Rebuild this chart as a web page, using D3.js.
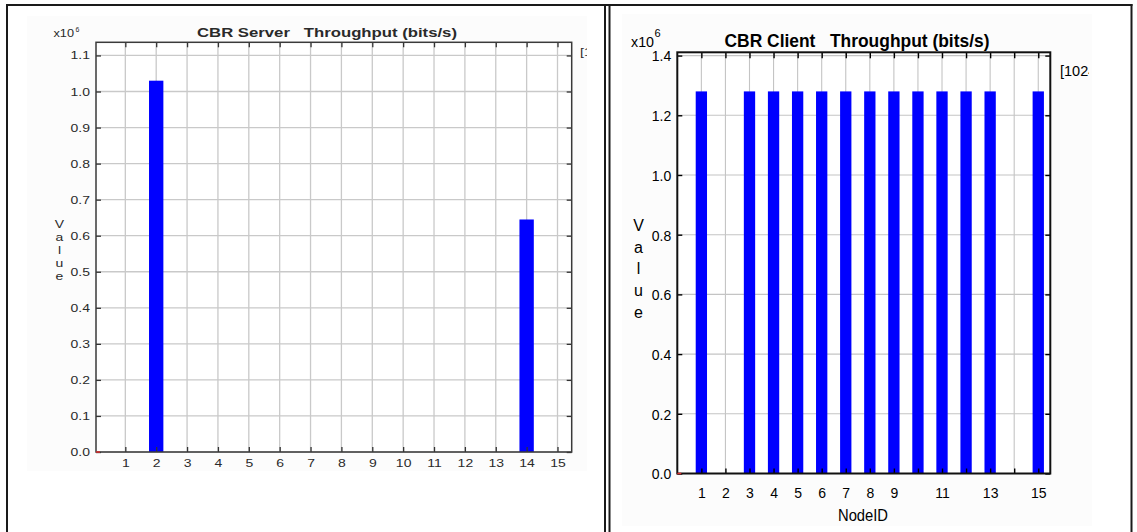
<!DOCTYPE html>
<html><head><meta charset="utf-8">
<script src="https://cdn.jsdelivr.net/npm/d3@7"></script>
<style>
body{margin:0;background:#fff}
svg{display:block;font-family:"Liberation Sans",Arial,Helvetica,sans-serif}
text{white-space:pre}
</style></head>
<body><svg id="c" width="1137" height="532"></svg>
<script>
// ---------- data (values in units of 10^6 bits/s) ----------
const nodeIds = [1,2,3,4,5,6,7,8,9,10,11,12,13,14,15];
const serverValues = [0,1.03,0,0,0,0,0,0,0,0,0,0,0,0.645,0];
const clientValues = [1.28,0,1.28,1.28,1.28,1.28,1.28,1.28,1.28,1.28,1.28,1.28,1.28,0,1.28];
const serverYTicks = [0,0.1,0.2,0.3,0.4,0.5,0.6,0.7,0.8,0.9,1.0,1.1];
const clientYTicks = [0,0.2,0.4,0.6,0.8,1.0,1.2,1.4];
const serverXTickLabels = [1,2,3,4,5,6,7,8,9,10,11,12,13,14,15];
const clientXTickLabels = [1,2,3,4,5,6,7,8,9,11,13,15];
const yAxisLetters = ["V","a","l","u","e"];
const serverTitle = "CBR Server   Throughput (bits/s)";
const clientTitle = "CBR Client   Throughput (bits/s)";
const xAxisTitle = "NodeID";

const svg = d3.select("#c");
const defs = svg.append("defs");
const fmt = d3.format(".1f");

function drawChart(cfg){
  const g = svg.append("g");
  const x = d3.scaleLinear().domain(cfg.xDomain).range(cfg.xRange);
  const y = d3.scaleLinear().domain(cfg.yDomain).range(cfg.yRange);
  const [x0,x1] = cfg.xRange, [yb,yt] = cfg.yRange;
  const sx = cfg.sx;

  g.append("rect").attr("x",cfg.bg[0]).attr("y",cfg.bg[1]).attr("width",cfg.bg[2]).attr("height",cfg.bg[3]).attr("fill","#fcfcfc");
  g.append("rect").attr("x",x0).attr("y",yt).attr("width",x1-x0).attr("height",yb-yt).attr("fill","#fff");

  // grid
  g.append("g").selectAll("line").data(nodeIds).join("line")
    .attr("x1",d=>x(d)).attr("x2",d=>x(d)).attr("y1",yt).attr("y2",yb)
    .attr("stroke",cfg.gridColor).attr("stroke-width",cfg.gridW);
  g.append("g").selectAll("line").data(cfg.yTicks).join("line")
    .attr("y1",d=>y(d)).attr("y2",d=>y(d)).attr("x1",x0).attr("x2",x1)
    .attr("stroke",cfg.gridColor).attr("stroke-width",cfg.gridW);

  // bars
  const bw = cfg.barFrac*(x(2)-x(1));
  const data = nodeIds.map((n,i)=>({n, v:cfg.values[i]})).filter(d=>d.v>0);
  g.append("g").selectAll("rect").data(data).join("rect")
    .attr("x",d=>x(d.n)-bw/2).attr("width",bw)
    .attr("y",d=>y(d.v)).attr("height",d=>y(0)-y(d.v))
    .attr("fill","#0000ff");

  // axes
  const left = g.append("g").attr("transform",`translate(${x0},0)`)
    .call(d3.axisLeft(y).tickValues(cfg.yTicks).tickFormat(fmt).tickSizeInner(-5).tickSizeOuter(0).tickPadding(cfg.yPad));
  const right = g.append("g").attr("transform",`translate(${x1},0)`)
    .call(d3.axisRight(y).tickValues(cfg.yTicks).tickFormat("").tickSizeInner(-5).tickSizeOuter(0));
  const top = g.append("g").attr("transform",`translate(0,${yt})`)
    .call(d3.axisTop(x).tickValues(nodeIds).tickFormat("").tickSizeInner(-cfg.topTick).tickSizeOuter(0));
  const bottom = g.append("g").attr("transform",`translate(0,${yb})`)
    .call(d3.axisBottom(x).tickValues(nodeIds)
      .tickFormat(d=>cfg.xLabels.includes(d)?String(d):"")
      .tickSizeInner(-5).tickSizeOuter(0).tickPadding(cfg.xPad));
  [left,right,top,bottom].forEach(a=>{
    a.select(".domain").remove();
    a.selectAll("line").attr("stroke",cfg.tickColor).attr("stroke-width",cfg.tickW);
    a.attr("font-family",null).attr("font-size",cfg.fs);
    a.selectAll("text").attr("fill",cfg.textColor);
  });
  left.selectAll("text").attr("x",-cfg.yPad/sx).attr("transform",`scale(${sx},1)`).attr("dy",cfg.yDy);
  bottom.selectAll("text").attr("transform",`scale(${sx},1)`);

  // frame
  g.append("rect").attr("x",x0).attr("y",yt).attr("width",x1-x0).attr("height",yb-yt)
    .attr("fill","none").attr("stroke",cfg.frameColor).attr("stroke-width",cfg.frameW);
  g.append("line").attr("x1",x0).attr("x2",x0+4).attr("y1",yb).attr("y2",yb).attr("stroke","#e03030").attr("stroke-width",1.5);

  // title
  g.append("text").attr("x",cfg.title.x).attr("y",cfg.title.y)
    .attr("font-size",cfg.title.fs).attr("font-weight","bold").attr("fill",cfg.textColor)
    .attr("textLength",cfg.title.len).attr("lengthAdjust","spacingAndGlyphs").text(cfg.title.text);

  // x10^6
  const e = cfg.exp;
  g.append("text").attr("x",e.x).attr("y",e.y).attr("font-size",e.fs).attr("fill",cfg.textColor)
    .attr("textLength",e.len).attr("lengthAdjust","spacingAndGlyphs").text("x10");
  g.append("text").attr("x",e.sx).attr("y",e.sy).attr("font-size",e.sfs).attr("fill",cfg.textColor).text("6");

  // vertical "Value"
  const v = cfg.vlab;
  g.append("g").selectAll("text").data(yAxisLetters).join("text")
    .attr("transform",(d,i)=>`translate(${v.x},${v.y0+i*v.dy}) scale(${sx},1)`)
    .attr("text-anchor","middle").attr("dy","0.35em")
    .attr("font-size",v.fs).attr("fill",cfg.textColor).text(d=>d);

  // clipped legend stub
  const c = cfg.stub;
  defs.append("clipPath").attr("id",c.id).append("rect")
    .attr("x",c.x-3).attr("y",c.y-20).attr("width",c.clip-(c.x-3)).attr("height",30);
  g.append("g").attr("clip-path",`url(#${c.id})`).append("text")
    .attr("transform",`translate(${c.x},${c.y}) scale(${sx},1)`)
    .attr("font-size",c.fs).attr("fill",cfg.textColor).text(c.text);

  if(cfg.xTitle){
    const t = cfg.xTitle;
    g.append("text").attr("x",t.x).attr("y",t.y).attr("font-size",t.fs).attr("fill",cfg.textColor)
      .attr("textLength",t.len).attr("lengthAdjust","spacingAndGlyphs").text(t.text);
  }
}

drawChart({
  values: serverValues, yTicks: serverYTicks, xLabels: serverXTickLabels,
  xDomain:[0.05,15.46], xRange:[96,571.7],
  yDomain:[0,1.1365], yRange:[452,42.3],
  bg:[27,16,560,455], sx:1.4, fs:10, yPad:6, yDy:"0.35em", xPad:8,
  gridColor:"#c9c9c9", gridW:1.3, tickColor:"#333", tickW:1.3, topTick:5,
  frameColor:"#3a3a3a", frameW:1.5, textColor:"#2a2a2a", barFrac:0.465,
  title:{x:197,y:37,fs:12,len:260,text:serverTitle},
  exp:{x:53.5,y:36.5,fs:10,len:20.5,sx:75.5,sy:32,sfs:7},
  vlab:{x:59.5,y0:224,dy:13,fs:10},
  stub:{id:"clipL",x:580,y:56,fs:10,text:"[1",clip:587}
});

drawChart({
  values: clientValues, yTicks: clientYTicks, xLabels: clientXTickLabels,
  xDomain:[0,15.5], xRange:[677.3,1050.3],
  yDomain:[0,1.411], yRange:[473.5,52.3],
  bg:[622,14,470,512], sx:1, fs:14, yPad:6, yDy:"0.38em", xPad:15,
  gridColor:"#c4c4c4", gridW:1.1, tickColor:"#000", tickW:1.4, topTick:6,
  frameColor:"#111", frameW:2, textColor:"#000", barFrac:0.47,
  title:{x:724.5,y:46.5,fs:18,len:265,text:clientTitle},
  exp:{x:631,y:47,fs:15.5,len:23,sx:654.5,sy:37,sfs:11},
  vlab:{x:638.5,y0:225,dy:21.9,fs:16},
  stub:{id:"clipR",x:1060,y:76,fs:14.5,text:"[1024",clip:1089},
  xTitle:{x:838,y:521,fs:16,len:50,text:xAxisTitle}
});

// outer panel frames
const frame = svg.append("g").attr("stroke","#1a1a1a").attr("stroke-width",2);
frame.append("line").attr("x1",6).attr("x2",1132.5).attr("y1",5).attr("y2",5);
frame.append("line").attr("x1",7).attr("x2",7).attr("y1",4).attr("y2",532);
frame.append("line").attr("x1",605).attr("x2",605).attr("y1",4).attr("y2",532);
frame.append("line").attr("x1",609.5).attr("x2",609.5).attr("y1",4).attr("y2",532);
frame.append("line").attr("x1",1131.5).attr("x2",1131.5).attr("y1",4).attr("y2",532);
</script>
</body></html>
